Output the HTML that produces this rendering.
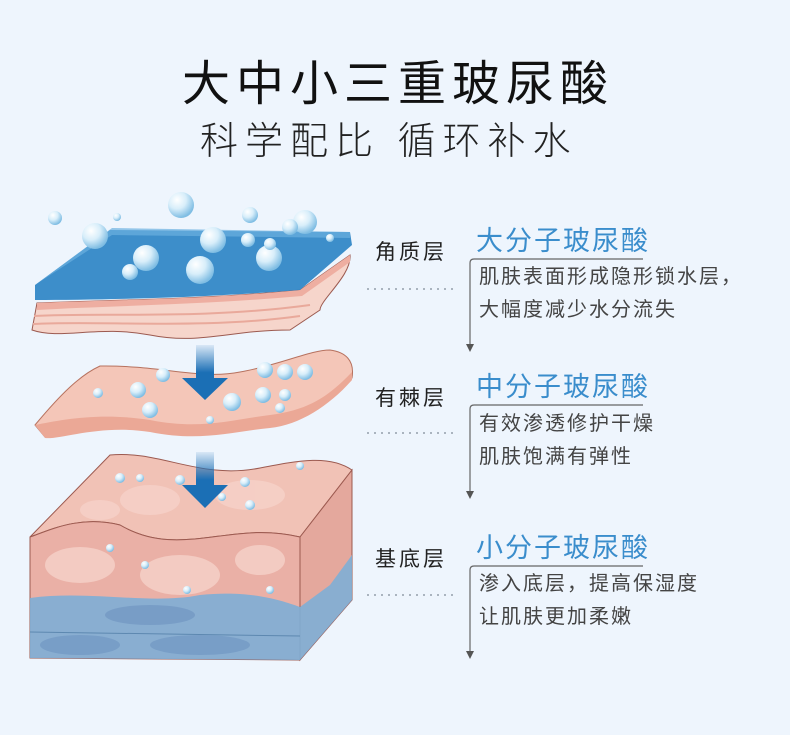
<!DOCTYPE html>
<html><head><meta charset="utf-8"><style>
body{margin:0;width:790px;height:735px;background:#eef5fd;font-family:"Liberation Sans","Noto Sans CJK SC",sans-serif;position:relative;overflow:hidden}
.t{position:absolute;white-space:nowrap}
.h1{left:182px;top:44px;font-size:48px;letter-spacing:6px;color:#111;font-weight:400}
.h2{left:200px;top:110px;font-size:38px;letter-spacing:7px;color:#222;font-weight:300}
.lab{left:375px;font-size:21px;letter-spacing:3px;color:#222}
.bl{left:476px;font-size:27px;letter-spacing:2px;color:#3a8dcc}
.bd{left:479px;font-size:20px;letter-spacing:2px;color:#444;line-height:33px}
</style></head><body>
<div class="t h1">大中小三重玻尿酸</div>
<div class="t h2">科学配比 循环补水</div>

<svg width="790" height="735" style="position:absolute;left:0;top:0">
<defs>
<radialGradient id="b" cx="35%" cy="30%" r="70%"><stop offset="0" stop-color="#fff"/><stop offset="0.5" stop-color="#d8eefa"/><stop offset="1" stop-color="#7fbde3"/></radialGradient>
<linearGradient id="ar" x1="0" y1="0" x2="0" y2="1"><stop offset="0" stop-color="#1b6fb5" stop-opacity="0.1"/><stop offset="0.5" stop-color="#1b6fb5"/></linearGradient>
</defs>
<path d="M30,537 L110,455 C160,450 200,480 260,468 C300,460 330,455 352,470 L300,537 C230,520 180,560 120,525 C80,515 50,530 30,537Z" fill="#f1c2b6" stroke="#9c5a50" stroke-width="1"/>
<path d="M30,537 C50,530 80,515 120,525 C180,560 230,520 300,537 L300,660 L30,658Z" fill="#eab0a6" stroke="#9c5a50" stroke-width="1"/>
<path d="M300,537 L352,470 L352,600 L300,660Z" fill="#e4a89d" stroke="#9c5a50" stroke-width="1"/>
<path d="M30,598 C90,590 150,605 200,595 C250,590 280,600 300,607 L330,585 L352,555 L352,600 L300,660 L30,658Z" fill="#7eaed6" opacity="0.9"/>
<line x1="30" y1="632" x2="300" y2="636" stroke="#5d88b0" stroke-width="1"/>
<g fill="#f6d2c9" opacity="0.8">
<ellipse cx="80" cy="565" rx="35" ry="18"/><ellipse cx="180" cy="575" rx="40" ry="20"/><ellipse cx="260" cy="560" rx="25" ry="15"/>
<ellipse cx="150" cy="500" rx="30" ry="15"/><ellipse cx="250" cy="495" rx="35" ry="15"/><ellipse cx="100" cy="510" rx="20" ry="10"/>
</g>
<g fill="#6d93c0" opacity="0.6"><ellipse cx="80" cy="645" rx="40" ry="10"/><ellipse cx="200" cy="645" rx="50" ry="10"/><ellipse cx="150" cy="615" rx="45" ry="10"/></g>
<path d="M35,425 C60,395 80,375 100,366 C160,365 200,380 240,372 C280,365 310,350 330,350 C345,352 355,360 352,378 C330,400 300,420 270,425 C230,430 200,440 150,430 C100,420 60,440 45,437Z" fill="#f4c6b8" stroke="#b7725f" stroke-width="1"/>
<path d="M35,425 C60,420 100,412 150,420 C200,430 230,420 270,415 C310,410 330,395 352,372 L352,380 C330,405 300,425 270,428 C230,432 200,442 150,432 C100,424 60,440 45,438Z" fill="#eba896"/>
<path d="M37,303 C100,300 200,300 300,290 L350,255 C352,275 320,300 320,310 L290,330 C230,330 200,345 150,335 C100,325 60,340 32,330Z" fill="#f6d5cb" stroke="#9c5a50" stroke-width="1"/>
<g stroke="#e9a99b" stroke-width="2" fill="none"><path d="M34,316 C100,312 200,320 310,305"/><path d="M33,324 C100,320 200,330 300,316"/></g>
<path d="M37,303 C100,300 200,300 300,290 L350,255 L350,262 L302,296 C200,305 100,306 37,310Z" fill="#eeaea1"/>
<path d="M35,285 L110,230 L350,232 L352,245 L300,290 C200,298 100,300 35,300Z" fill="#2e84c6" opacity="0.92"/>
<path d="M38,283 L112,228 L350,232 L350,238 L112,235Z" fill="#6bb0e0" opacity="0.7"/>
<path d="M196,345 H214 V378 H228 L205,400 L182,378 H196Z" fill="url(#ar)"/>
<path d="M196,452 H214 V485 H228 L205,508 L182,485 H196Z" fill="url(#ar)"/>
<g fill="url(#b)">
<circle cx="181" cy="205" r="13"/><circle cx="95" cy="236" r="13"/><circle cx="146" cy="258" r="13"/><circle cx="213" cy="240" r="13"/><circle cx="269" cy="258" r="13"/><circle cx="200" cy="270" r="14"/><circle cx="305" cy="222" r="12"/><circle cx="290" cy="227" r="8"/><circle cx="130" cy="272" r="8"/><circle cx="250" cy="215" r="8"/><circle cx="55" cy="218" r="7"/><circle cx="117" cy="217" r="4"/><circle cx="330" cy="238" r="4"/><circle cx="270" cy="244" r="6"/><circle cx="248" cy="240" r="7"/>
<circle cx="265" cy="370" r="8"/><circle cx="285" cy="372" r="8"/><circle cx="305" cy="372" r="8"/><circle cx="232" cy="402" r="9"/><circle cx="138" cy="390" r="8"/><circle cx="150" cy="410" r="8"/><circle cx="163" cy="375" r="7"/><circle cx="98" cy="393" r="5"/><circle cx="263" cy="395" r="8"/><circle cx="280" cy="408" r="5"/><circle cx="210" cy="420" r="4"/><circle cx="285" cy="395" r="6"/>
<circle cx="120" cy="478" r="5"/><circle cx="140" cy="478" r="4"/><circle cx="245" cy="482" r="5"/><circle cx="250" cy="505" r="5"/><circle cx="180" cy="480" r="5"/><circle cx="110" cy="548" r="4"/><circle cx="145" cy="565" r="4"/><circle cx="187" cy="590" r="4"/><circle cx="270" cy="590" r="4"/><circle cx="300" cy="466" r="4"/><circle cx="222" cy="497" r="4"/>
</g>
<g stroke="#aab4bf" stroke-width="2" stroke-dasharray="2 5">
<line x1="367" y1="289" x2="455" y2="289"/><line x1="367" y1="433" x2="455" y2="433"/><line x1="367" y1="595" x2="455" y2="595"/>
</g>
<g stroke="#666" stroke-width="1.2" fill="none">
<path d="M643,259 H474 Q470,259 470,263 V345"/>
<path d="M643,405 H474 Q470,405 470,409 V492"/>
<path d="M643,566 H474 Q470,566 470,570 V652"/>
</g>
<g fill="#555"><path d="M466,344 h8 l-4,8z"/><path d="M466,491 h8 l-4,8z"/><path d="M466,651 h8 l-4,8z"/></g>
</svg>

<div class="t lab" style="top:236px">角质层</div>
<div class="t lab" style="top:382px">有棘层</div>
<div class="t lab" style="top:543px">基底层</div>
<div class="t bl" style="top:219px">大分子玻尿酸</div>
<div class="t bl" style="top:365px">中分子玻尿酸</div>
<div class="t bl" style="top:526px">小分子玻尿酸</div>
<div class="t bd" style="top:261px">肌肤表面形成隐形锁水层，<br>大幅度减少水分流失</div>
<div class="t bd" style="top:408px">有效渗透修护干燥<br>肌肤饱满有弹性</div>
<div class="t bd" style="top:568px">渗入底层，提高保湿度<br>让肌肤更加柔嫩</div>
</body></html>
